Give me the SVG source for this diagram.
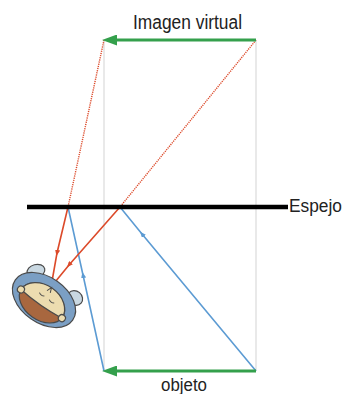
<svg xmlns="http://www.w3.org/2000/svg" width="344" height="394" viewBox="0 0 344 394">
  <style>
    .guide { stroke: #e2e2e2; stroke-width: 1.5; fill: none; }
    .vec { stroke: #34a04c; stroke-width: 3; fill: none; }
    .ray-red { stroke: #dc4a2a; stroke-width: 1.6; fill: none; }
    .ray-virtual { stroke: #dc4a2a; stroke-width: 1.4; stroke-dasharray: 1.2 1; fill: none; }
    .ray-blue { stroke: #5c9bd3; stroke-width: 1.6; fill: none; }
    .label { font-family: "Liberation Sans", Arial, sans-serif; fill: #222; }
    .outline { stroke: #4a4a4a; stroke-width: 1.2; }
  </style>
  <defs>
    <marker id="headGreen" viewBox="0 0 15 11" refX="0" refY="5.5" markerWidth="15" markerHeight="11" markerUnits="userSpaceOnUse" orient="auto">
      <path d="M0,0 L15,5.5 L0,11 Z" fill="#34a04c"/>
    </marker>
    <marker id="midRed" viewBox="0 0 6 5" refX="3" refY="2.5" markerWidth="6" markerHeight="5" markerUnits="userSpaceOnUse" orient="auto">
      <path d="M0,0 L6,2.5 L0,5 Z" fill="#dc4a2a"/>
    </marker>
    <marker id="midBlue" viewBox="0 0 6 5" refX="3" refY="2.5" markerWidth="6" markerHeight="5" markerUnits="userSpaceOnUse" orient="auto">
      <path d="M0,0 L6,2.5 L0,5 Z" fill="#5c9bd3"/>
    </marker>
  </defs>

  <rect width="344" height="394" fill="#ffffff"/>

  <!-- vertical guides from object to its image -->
  <g id="guides">
    <line class="guide" x1="104" y1="40" x2="104" y2="371"/>
    <line class="guide" x1="256" y1="40" x2="256" y2="371"/>
  </g>

  <!-- light rays -->
  <g id="connectors">
    <!-- virtual extensions behind the mirror -->
    <line class="ray-virtual" x1="104" y1="40" x2="68" y2="207"/>
    <line class="ray-virtual" x1="256" y1="40" x2="120" y2="207"/>
    <!-- incident rays from the object -->
    <path class="ray-blue" d="M256,371 L142,234 L120,207" marker-mid="url(#midBlue)"/>
    <path class="ray-blue" d="M104,371 L83,275 L68,207" marker-mid="url(#midBlue)"/>
    <!-- reflected rays to the eye -->
    <path class="ray-red" d="M68,207 L57,253 L51,287" marker-mid="url(#midRed)"/>
    <path class="ray-red" d="M120,207 L69,265 L51,287" marker-mid="url(#midRed)"/>
  </g>

  <g id="mirror">
    <line x1="27" y1="207" x2="288" y2="207" stroke="#000" stroke-width="4.5"/>
    <text class="label" x="289" y="212" font-size="18" textLength="53" lengthAdjust="spacingAndGlyphs">Espejo</text>
  </g>

  <g id="imagen">
    <line class="vec" x1="256" y1="40" x2="117" y2="40" marker-end="url(#headGreen)"/>
    <text class="label" x="133" y="29" font-size="20" textLength="109" lengthAdjust="spacingAndGlyphs">Imagen virtual</text>
  </g>

  <g id="objeto">
    <line class="vec" x1="256" y1="371" x2="117" y2="371" marker-end="url(#headGreen)"/>
    <text class="label" x="161" y="391" font-size="18" textLength="46" lengthAdjust="spacingAndGlyphs">objeto</text>
  </g>

  <!-- observer seen from above: arms, shoulders, hair and face -->
  <g id="observador">
    <ellipse class="outline" cx="36" cy="271" rx="9" ry="6.5" fill="#c9d8e2" transform="rotate(-15 36 271)"/>
    <ellipse class="outline" cx="75" cy="298" rx="8" ry="7" fill="#c9d8e2" transform="rotate(40 75 298)"/>
    <ellipse class="outline" cx="44" cy="300" rx="35" ry="23" fill="#7b9fc4" transform="rotate(35 44 300)"/>
    <g transform="translate(42 303) rotate(35)">
      <ellipse class="outline" cx="0" cy="0" rx="25" ry="17" fill="#a8673f"/>
      <path class="outline" d="M-25,1 A25,19 0 0 1 25,1 Q0,4 -25,1 Z" fill="#ecdcb0"/>
      <circle class="outline" cx="-25" cy="1" r="3.5" fill="#ecdcb0"/>
      <circle class="outline" cx="25" cy="1" r="3.5" fill="#ecdcb0"/>
      <path d="M-8,-7 q3,2 6,0 M4,-7 q3,2 6,0 M-3,-13 l2,-5 l2,5" stroke="#4a4a4a" stroke-width="1" fill="none"/>
    </g>
  </g>
</svg>
